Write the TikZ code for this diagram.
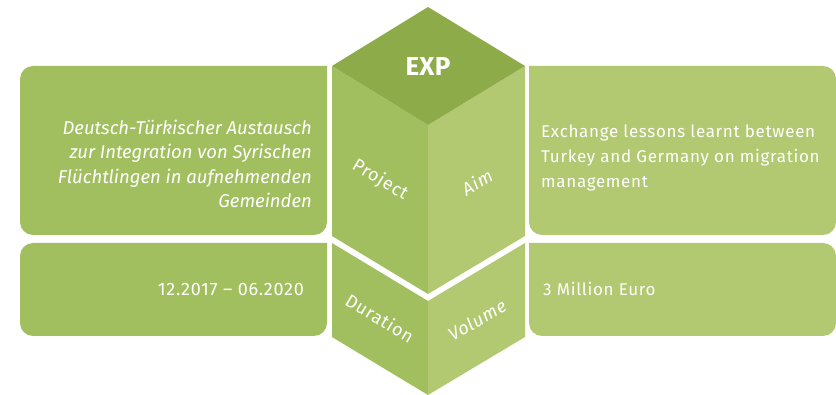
\documentclass[tikz,border=0pt]{standalone}
\usepackage{fontspec}
\newfontfamily\din[LetterSpace=4]{Fira Sans}
\newfontfamily\dinit[LetterSpace=0]{Fira Sans Italic}
\newfontfamily\dinexp[LetterSpace=1]{Fira Sans}
\definecolor{gdark}{HTML}{8EAB49}
\definecolor{gmid}{HTML}{A2BF5F}
\definecolor{glight}{HTML}{B2C972}
\begin{document}
\begin{tikzpicture}[x=1pt,y=-1pt,
  txt/.style={text=white,inner sep=0pt,font=\din\fontsize{17}{25}\selectfont},
  itxt/.style={text=white,inner sep=0pt,font=\dinit\fontsize{18.5}{24.5}\selectfont},
  face/.style={text=white,inner sep=0pt,font=\din\fontsize{18}{20}\selectfont},
  iface/.style={text=white,inner sep=0pt,font=\din\itshape\fontsize{18}{20}\selectfont}]
\useasboundingbox (0,0) rectangle (836,395);
% boxes
\fill[gmid,rounded corners=13] (327,66) -- (20,66) -- (20,235) -- (327,235) [sharp corners] -- cycle;
\fill[gmid,rounded corners=13] (327,243) -- (20,243) -- (20,336) -- (327,336) [sharp corners] -- cycle;
\fill[glight,rounded corners=13] (529,66) -- (836,66) -- (836,235) -- (529,235) [sharp corners] -- cycle;
\fill[glight,rounded corners=13] (529,243) -- (836,243) -- (836,336) -- (529,336) [sharp corners] -- cycle;
% cube
\fill[gmid] (332,66) -- (428,125) -- (428,294) -- (332,236) -- cycle;
\fill[glight] (525,66) -- (428,125) -- (428,294) -- (525,236) -- cycle;
\fill[gmid] (332,243) -- (428,301) -- (428,395) -- (332,337) -- cycle;
\fill[glight] (525,243) -- (428,301) -- (428,395) -- (525,337) -- cycle;
\fill[gdark] (428,7) -- (525,66) -- (428,125) -- (332,66) -- cycle;
% labels
\node[text=white,inner sep=0pt,font=\dinexp\fontsize{26}{30}\selectfont\bfseries] (exp) at (428,66) {EXP};
\node[face,rotate=-31] (proj) at (380,180) {Project};
\node[iface,rotate=30] (aim) at (477,182) {Aim};
\node[face,rotate=-31] (dur) at (380,318) {Duration};
\node[iface,rotate=30] (vol) at (477,320) {Volume};
% texts
\node[itxt,anchor=east,align=right] (ptxt) at (312,164) {Deutsch-Türkischer Austausch\\zur Integration von Syrischen\\Flüchtlingen in aufnehmenden\\Gemeinden};
\node[txt,anchor=west,align=left] (atxt) at (541,158) {Exchange lessons learnt between\\Turkey and Germany on migration\\management};
\node[txt,anchor=east,font=\din\fontsize{18}{24.5}\selectfont] (dtxt) at (304,289) {12.2017 – 06.2020};
\node[txt,anchor=west,font=\din\fontsize{17}{24.5}\selectfont] (vtxt) at (543,289) {3 Million Euro};
\end{tikzpicture}
\end{document}
